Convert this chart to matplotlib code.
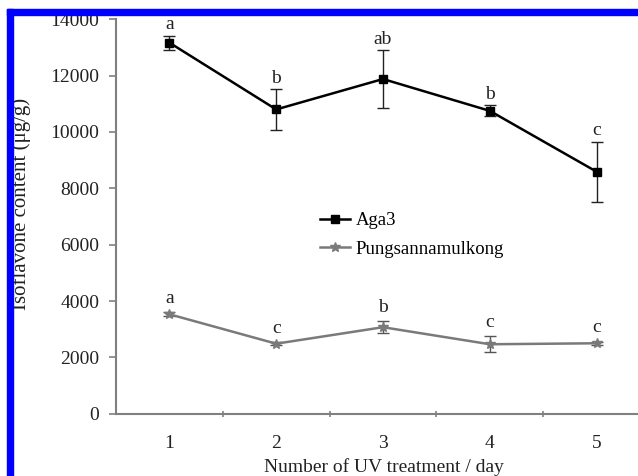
import matplotlib
matplotlib.use("Agg")
import matplotlib.pyplot as plt
from matplotlib.patches import Rectangle
from matplotlib.lines import Line2D

days = [1, 2, 3, 4, 5]
aga3 = [13170, 10800, 11880, 10750, 8590]
aga3_err = [250, 720, 1030, 200, 1065]
aga3_letters = ["a", "b", "ab", "b", "c"]
pung = [3530, 2485, 3070, 2465, 2500]
pung_err = [70, 60, 220, 280, 60]
pung_letters = ["a", "c", "b", "c", "c"]
yticks = [0, 2000, 4000, 6000, 8000, 10000, 12000, 14000]

plt.rcParams['font.family'] = ['Liberation Serif', 'DejaVu Serif']
W, H = 638, 476
fig = plt.figure(figsize=(W / 100, H / 100), dpi=100)
ax = fig.add_axes([116 / W, (H - 413.7) / H, (650 - 116) / W, 394.4 / H])

axis_grey = '#808080'
txt = '#222222'
ax.errorbar(days, aga3, yerr=aga3_err, color='black', marker='s', markersize=6,
            lw=1.8, capsize=4, elinewidth=1, ecolor='#222222', zorder=3)
ax.errorbar(days, pung, yerr=pung_err, color='#7a7a7a', marker='*', markersize=7,
            lw=1.8, capsize=4, elinewidth=1, ecolor='#555555', zorder=3)

for x, y, e, t in zip(days, aga3, aga3_err, aga3_letters):
    ax.text(x, y + e + 80, t, ha='center', va='bottom', fontsize=14, color=txt)
for x, y, e, t in zip(days, pung, pung_err, pung_letters):
    ax.text(x, y + e + 190, t, ha='center', va='bottom', fontsize=14, color=txt)

ax.set_xlim(0.5, 5.5)
ax.set_ylim(0, 14000)
ax.set_yticks(yticks)
ax.set_xticks(days)
ax.set_xticks([1.5, 2.5, 3.5, 4.5, 5.5], minor=True)
ax.tick_params(axis='x', which='major', length=0, pad=15, labelsize=14, labelcolor=txt)
ax.tick_params(axis='x', which='minor', length=5, direction='inout', color=axis_grey, width=1.2)
ax.tick_params(axis='y', length=5, direction='out', color=axis_grey, width=1.2,
               pad=7, labelsize=14, labelcolor=txt)
for s in ['top', 'right']:
    ax.spines[s].set_visible(False)
for s in ['left', 'bottom']:
    ax.spines[s].set_color(axis_grey)
    ax.spines[s].set_linewidth(1.5)

fig.text(384 / W, 1 - 467 / H, 'Number of UV treatment / day', ha='center', va='center',
         fontsize=14, color=txt)
fig.text(21 / W, 1 - 204 / H, 'Isoflavone content (μg/g)', ha='center', va='center',
         rotation=90, fontsize=15, color=txt)

handles = [Line2D([], [], color='black', marker='s', markersize=6, lw=1.8),
           Line2D([], [], color='#7a7a7a', marker='*', markersize=7, lw=1.8)]
ax.legend(handles, ['Aga3', 'Pungsannamulkong'], loc='upper left',
          bbox_to_anchor=((320 - 116) / 534, (413.7 - 212) / 394.4),
          frameon=False, fontsize=13.5, handlelength=1.6, handletextpad=0.3,
          borderaxespad=0, borderpad=0, labelspacing=0.6)

fig.patches.append(Rectangle((7.3 / W, 0), 5.4 / W, 1 - 9.3 / H, transform=fig.transFigure,
                             color='#0000ff', zorder=10))
fig.patches.append(Rectangle((7.3 / W, 1 - 15 / H), 1, 5.7 / H, transform=fig.transFigure,
                             color='#0000ff', zorder=10))

fig.savefig('out.png', dpi=100)
